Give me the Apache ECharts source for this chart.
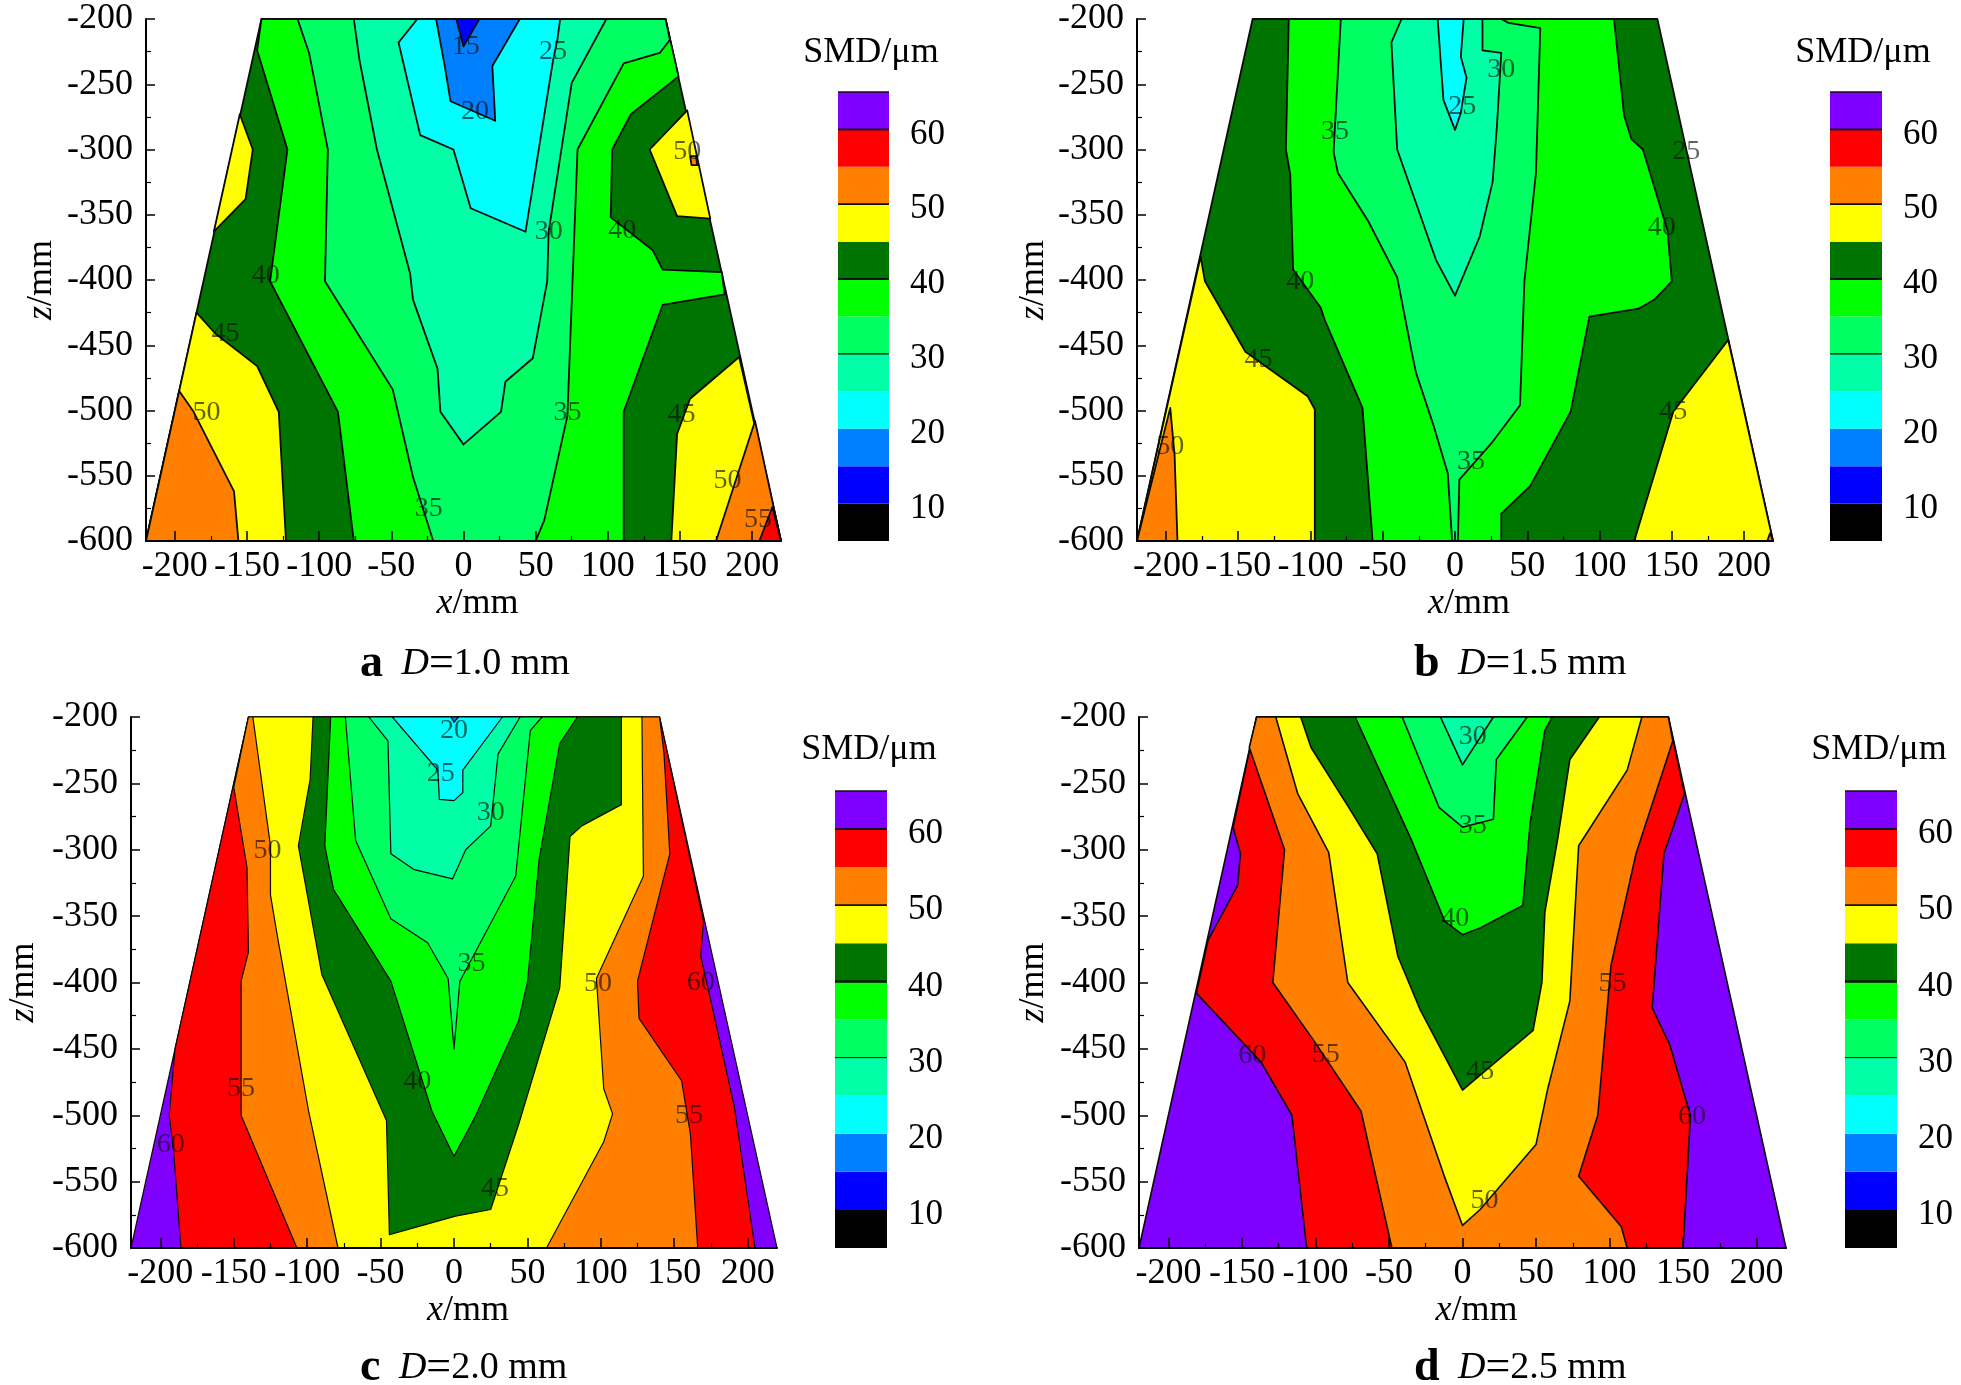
<!DOCTYPE html>
<html><head><meta charset="utf-8">
<style>html,body{margin:0;padding:0;background:#fff}#c{width:1961px;height:1385px}</style>
<script src="https://cdn.jsdelivr.net/npm/echarts@6/dist/echarts.min.js"></script>
</head><body><div id="c"></div>
<script>
// Colour bar levels (lower bound of each 5-unit band)
const bandLows = [5,10,15,20,25,30,35,40,45,50,55,60];
const bandColors = ['#000000','#0000ff','#0080ff','#00ffff','#00ffa6','#00ff62','#00ff00','#007400','#ffff00','#ff8000','#ff0000','#8000ff'];
const barTicks = [10,20,30,40,50,60];
const barLines = {30:0.8,40:2,50:1.5,60:1.5,65:1.5};
const xMajor = [-200,-150,-100,-50,0,50,100,150,200];
const xMinor = [-175,-125,-75,-25,25,75,125,175];
const outline = [[-140,-200],[140,-200],[220,-600],[-220,-600]];

// Regions: [band lower bound, polygon in (x mm, z mm)], painted in order
const regionsA = [
 [40,outline],
 [45,[[-155,-273],[-146,-300],[-151,-338],[-173,-363]]],
 [45,[[-185,-425],[-172,-441],[-143,-466],[-128,-501],[-123,-600],[-220,-600]]],
 [45,[[155,-270],[129,-300],[148,-351],[171,-353]]],
 [45,[[191,-459],[157,-491],[148,-518],[144,-600],[220,-600]]],
 [50,[[157,-305],[158,-312],[162,-312],[161,-305]]],
 [50,[[-197,-485],[-187,-501],[-159,-562],[-156,-600],[-220,-600]]],
 [50,[[202,-508],[175,-600],[220,-600]]],
 [55,[[214,-574],[205,-600],[220,-600]]],
 [35,[[-140,-200],[-143,-224],[-122,-300],[-134,-401],[-87,-501],[-76,-600],[111,-600],[111,-501],[138,-419],[181,-411],[179,-394],[138,-392],[131,-377],[102,-352],[103,-300],[116,-273],[149,-244],[140,-200]]],
 [30,[[-115,-200],[-107,-226],[-94,-300],[-96,-401],[-49,-484],[-35,-551],[-21,-600],[50,-600],[56,-584],[72,-504],[79,-300],[111,-234],[136,-226],[143,-216],[140,-200]]],
 [25,[[-76,-200],[-72,-232],[-60,-300],[-37,-395],[-35,-415],[-18,-468],[-16,-501],[0,-526],[26,-501],[29,-478],[48,-460],[58,-401],[59,-363],[75,-249],[99,-200]]],
 [20,[[-32,-200],[-45,-218],[-30,-289],[-7,-300],[5,-345],[43,-363],[62,-232],[65,-216],[67,-200]]],
 [15,[[-19,-200],[-13,-236],[-9,-263],[22,-278],[20,-236],[39,-200]]],
 [10,[[-5,-200],[0,-221],[11,-200]]]
];
const labelsA = [[1.5,-221,15],[8,-271,20],[62,-225,25],[59,-363,30],[110,-362,40],[155,-302,50],[-137,-397,40],[-165,-441,45],[-178,-502,50],[72,-502,35],[151,-503,45],[183,-554,50],[204,-584,55],[-24,-575,35]];

const regionsB = [
 [40,outline],
 [45,[[-176,-382],[-173,-401],[-145,-455],[-102,-489],[-97,-499],[-97,-600],[-220,-600]]],
 [45,[[189,-446],[151,-501],[124,-600],[220,-600]]],
 [50,[[-197,-498],[-194,-534],[-192,-600],[-220,-600]]],
 [50,[[218,-594],[216,-600],[220,-600]]],
 [35,[[-115,-200],[-117,-300],[-114,-319],[-112,-392],[-93,-421],[-90,-431],[-64,-498],[-57,-600],[32,-600],[32,-579],[52,-558],[80,-501],[93,-428],[127,-422],[138,-415],[150,-401],[147,-362],[130,-300],[122,-292],[117,-274],[110,-200]]],
 [30,[[-79,-200],[-84,-302],[-81,-318],[-60,-355],[-40,-398],[-30,-455],[-27,-471],[-15,-511],[-5,-548],[-2,-600],[2,-600],[3,-553],[26,-524],[45,-496],[48,-401],[56,-318],[59,-207],[37,-203],[32,-200]]],
 [25,[[-37,-200],[-44,-218],[-40,-300],[-13,-385],[0,-412],[17,-367],[26,-325],[29,-282],[32,-226],[19,-224],[19,-200]]],
 [20,[[-12,-200],[-8,-262],[0,-285],[4,-272],[8,-245],[4,-229],[6,-200]]]
];
const labelsB = [[32,-239,30],[5,-267,25],[-83,-286,35],[160,-302,25],[143,-360,40],[-107,-401,40],[-136,-461,45],[-197,-528,50],[151,-501,45],[11,-539,35]];

const regionsC = [
 [60,outline],
 [55,[[-140,-200],[-160,-300],[-190,-450],[-194,-500],[-191,-527],[-186,-600],[205,-600],[191,-494],[175,-414],[168,-380],[170,-354],[140,-200]]],
 [50,[[-140,-200],[-150,-253],[-141,-313],[-140,-377],[-145,-399],[-145,-500],[-107,-600],[166,-600],[161,-514],[155,-474],[126,-427],[125,-399],[147,-303],[143,-227],[140,-200]]],
 [45,[[-137,-200],[-125,-297],[-125,-334],[-120,-367],[-99,-497],[-79,-600],[63,-600],[102,-520],[108,-499],[102,-480],[97,-397],[129,-320],[128,-200]]],
 [40,[[-96,-200],[-98,-247],[-106,-297],[-90,-394],[-46,-504],[-44,-590],[1,-576],[25,-571],[44,-507],[72,-404],[76,-340],[79,-290],[87,-282],[114,-266],[114,-200]]],
 [35,[[-84,-200],[-88,-297],[-82,-330],[-43,-399],[-15,-497],[0,-531],[14,-502],[44,-429],[50,-400],[58,-307],[72,-220],[84,-200]]],
 [30,[[-74,-200],[-67,-293],[-43,-352],[-18,-370],[-4,-397],[0,-450],[4,-399],[42,-320],[52,-210],[60,-200]]],
 [25,[[-58,-200],[-45,-218],[-43,-303],[-27,-315],[-1,-322],[8,-300],[25,-282],[30,-228],[45,-200]]],
 [20,[[-42,-200],[-11,-240],[-10,-262],[0,-263],[6,-257],[6,-240],[33,-200]]],
 [15,[[-2,-200],[0,-204],[3,-200]]]
];
const labelsC = [[0,-210,20],[-9,-243,25],[25,-272,30],[-127,-301,50],[12,-386,35],[98,-401,50],[168,-400,60],[-145,-480,55],[-25,-475,40],[160,-500,55],[-193,-522,60],[28,-555,45]];

const regionsD = [
 [60,outline],
 [55,[[-140,-200],[-156,-283],[-151,-303],[-153,-327],[-173,-368],[-181,-408],[-137,-460],[-116,-500],[-106,-600],[150,-600],[155,-500],[141,-447],[129,-419],[137,-303],[151,-258],[140,-200]]],
 [50,[[-140,-200],[-145,-223],[-121,-300],[-129,-400],[-101,-444],[-69,-497],[-48,-600],[112,-600],[108,-584],[79,-546],[92,-500],[101,-387],[118,-303],[143,-218],[140,-200]]],
 [45,[[-127,-200],[-112,-258],[-91,-302],[-78,-400],[-39,-460],[-12,-547],[0,-583],[12,-571],[50,-522],[58,-480],[73,-414],[79,-297],[112,-240],[122,-200]]],
 [40,[[-110,-200],[-103,-223],[-78,-267],[-58,-303],[-44,-380],[-29,-420],[0,-481],[48,-436],[54,-400],[56,-347],[65,-290],[73,-232],[93,-200]]],
 [35,[[-73,-200],[-35,-292],[-12,-354],[0,-364],[12,-359],[41,-342],[46,-280],[56,-210],[61,-200]]],
 [30,[[-41,-200],[-16,-268],[0,-283],[21,-277],[23,-232],[44,-200]]],
 [25,[[-15,-200],[0,-236],[21,-200]]]
];
const labelsD = [[7,-215,30],[7,-282,35],[-5,-352,40],[102,-401,55],[-143,-455,60],[-93,-454,55],[12,-467,45],[156,-501,60],[15,-564,50]];

const captions = [['a','1.0 mm'],['b','1.5 mm'],['c','2.0 mm'],['d','2.5 mm']];

// Layout (pixels) kept apart from the data
const layout = [
 {regions:regionsA,labels:labelsA,left:146,width:635,top:19,height:522,barLeft:838,barW:51,barTop:92,barH:449,smd:[866,48],cap:[355,660],nameY:105,line:1.8},
 {regions:regionsB,labels:labelsB,left:1137,width:636,top:19,height:522,barLeft:1830,barW:52,barTop:92,barH:449,smd:[1858,48],cap:[1409,660],nameY:104,line:1.8},
 {regions:regionsC,labels:labelsC,left:131,width:646,top:717,height:531,barLeft:835,barW:52,barTop:791,barH:457,smd:[864,745],cap:[355,1364],nameY:108,line:1.2},
 {regions:regionsD,labels:labelsD,left:1139,width:647,top:717,height:531,barLeft:1845,barW:52,barTop:791,barH:457,smd:[1874,745],cap:[1409,1364],nameY:106,line:1.6}
];

const FONT = '"Liberation Serif","Times New Roman",serif';
const colorOf = low => bandColors[bandLows.indexOf(low)];
const grid=[], xAxis=[], yAxis=[], series=[], title=[];
const txt = {fontFamily:FONT,fontSize:36,color:'#000'};

layout.forEach((p)=>{
  const g = grid.length;
  grid.push({left:p.left,top:p.top,width:p.width,height:p.height});
  const xi = xAxis.length, yi = yAxis.length;
  xAxis.push({gridIndex:g,type:'value',min:-220,max:220,z:10,
    name:'{i|x}/mm',nameLocation:'middle',nameGap:42,
    nameTextStyle:{fontFamily:FONT,fontSize:36,color:'#000',padding:[0,0,0,28],rich:{i:{fontFamily:FONT,fontSize:36,fontStyle:'italic',color:'#000'}}},
    splitLine:{show:false},
    axisLine:{show:true,onZero:false,lineStyle:{color:'#000',width:2}},
    axisTick:{show:true,inside:true,length:10,lineStyle:{color:'#000',width:1.5},customValues:xMajor},
    axisLabel:{...txt,margin:8,customValues:xMajor,formatter:v=>String(v)}});
  xAxis.push({gridIndex:g,type:'value',min:-220,max:220,z:10,position:'bottom',
    splitLine:{show:false},axisLine:{show:false},
    axisTick:{show:true,inside:true,length:5,lineStyle:{color:'#000',width:1.2},customValues:xMinor},
    axisLabel:{show:false}});
  yAxis.push({gridIndex:g,type:'value',min:-600,max:-200,interval:50,z:10,
    name:'{i|z}/mm',nameLocation:'middle',nameGap:p.nameY-19,nameRotate:90,
    nameTextStyle:{fontFamily:FONT,fontSize:36,color:'#000',rich:{i:{fontFamily:FONT,fontSize:36,fontStyle:'italic',color:'#000'}}},
    splitLine:{show:false},
    axisLine:{show:true,onZero:false,lineStyle:{color:'#000',width:2}},
    axisTick:{show:true,inside:true,length:9,lineStyle:{color:'#000',width:1.5}},
    minorTick:{show:true,splitNumber:2,length:5,lineStyle:{color:'#000',width:1.2}},
    axisLabel:{...txt,margin:13}});
  const regs = p.regions, lw = p.line;
  series.push({type:'custom',xAxisIndex:xi,yAxisIndex:yi,coordinateSystem:'cartesian2d',clip:false,
    data:regs.map((r,i)=>[i,r[0]]),encode:{x:[],y:[]},
    renderItem:(params,api)=>{
      const r = regs[api.value(0)];
      return {type:'polygon',shape:{points:r[1].map(pt=>api.coord(pt))},
        style:{fill:colorOf(r[0]),stroke:'#0a0a0a',lineWidth:lw,lineJoin:'round'}};
    }});
  series.push({type:'scatter',xAxisIndex:xi,yAxisIndex:yi,symbolSize:0,z:5,silent:true,
    data:p.labels,
    label:{show:true,position:'inside',formatter:o=>String(o.value[2]),fontFamily:FONT,fontSize:28,color:'rgba(10,10,10,0.8)'}});
  // colour bar
  const g2 = grid.length, xi2 = xAxis.length, yi2 = yAxis.length;
  grid.push({left:p.barLeft,top:p.barTop,width:p.barW,height:p.barH});
  xAxis.push({gridIndex:g2,type:'value',min:0,max:1,show:false});
  yAxis.push({gridIndex:g2,type:'value',min:5,max:65,interval:5,position:'right',
    splitLine:{show:false},axisLine:{show:false},axisTick:{show:false},
    axisLabel:{...txt,fontSize:35,margin:21,verticalAlign:'top',lineHeight:10,formatter:v=>barTicks.includes(v)?String(v):''}});
  series.push({type:'custom',xAxisIndex:xi2,yAxisIndex:yi2,clip:false,
    data:bandLows.map(l=>[l]),encode:{x:[],y:0},
    renderItem:(params,api)=>{
      const low = api.value(0);
      const a = api.coord([0,low]), b = api.coord([1,low+5]);
      const children = [{type:'rect',shape:{x:a[0],y:b[1],width:b[0]-a[0],height:a[1]-b[1]},style:{fill:colorOf(low)}}];
      [low,low+5].forEach(v=>{
        if(barLines[v]){ const yy = api.coord([0,v])[1];
          children.push({type:'line',shape:{x1:a[0],y1:yy,x2:b[0],y2:yy},style:{stroke:'#111',lineWidth:barLines[v]},z2:5}); }
      });
      return {type:'group',children};
    }});
  title.push({text:'SMD/\u03bcm',left:p.smd[0],top:p.smd[1],textAlign:'center',textVerticalAlign:'middle',
    textStyle:{fontFamily:FONT,fontSize:36,fontWeight:'normal',color:'#000'}});
});
captions.forEach((c,i)=>{
  const p = layout[i];
  title.push({text:'{b|'+c[0]+'} {i|D}{e|=}{n|'+c[1]+'}',left:p.cap[0],top:p.cap[1]-24,
    textStyle:{fontFamily:FONT,fontWeight:'normal',rich:{
      b:{fontFamily:FONT,fontSize:46,fontWeight:'bold',color:'#000',padding:[0,14,0,0]},
      i:{fontFamily:FONT,fontSize:38,fontStyle:'italic',color:'#000'},
      e:{fontFamily:FONT,fontSize:44,color:'#000'},
      n:{fontFamily:FONT,fontSize:38,color:'#000'}}}});
});
const chart = echarts.init(document.getElementById('c'),null,{renderer:'canvas',width:1961,height:1385});
chart.setOption({animation:false,backgroundColor:'#fff',title,grid,xAxis,yAxis,series});
</script></body></html>
